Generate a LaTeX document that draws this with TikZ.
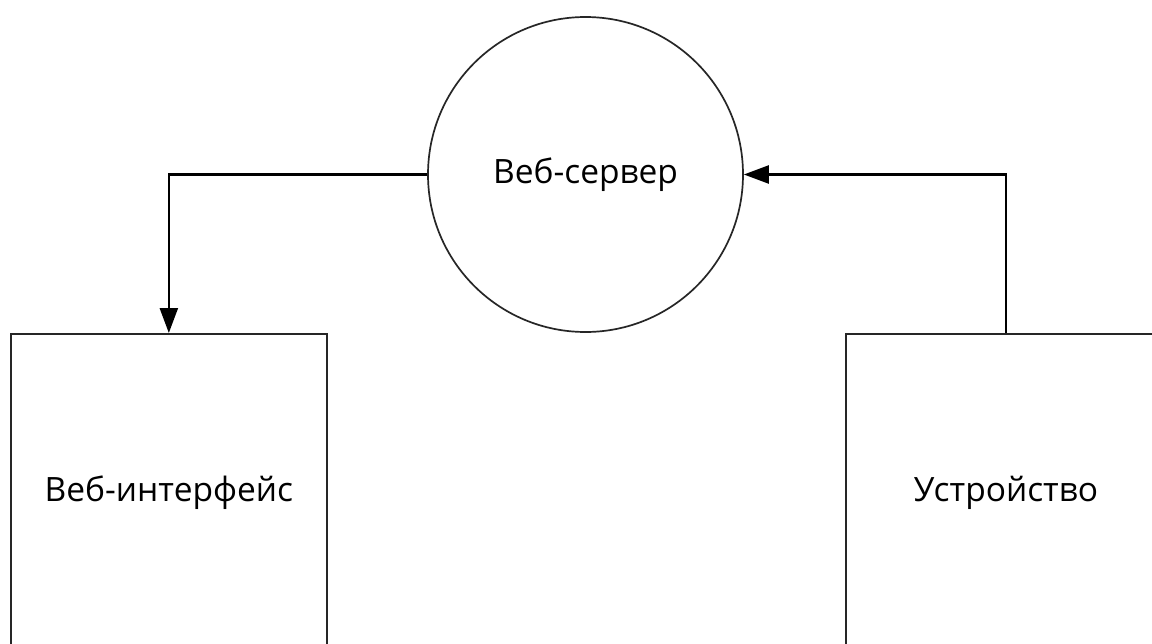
\documentclass[tikz,border=0pt]{standalone}
\usepackage{fontspec}
\setmainfont{Open Sans}
\usetikzlibrary{arrows.meta}
\begin{document}
\begin{tikzpicture}[x=1pt,y=-1pt,
  shapebox/.style={draw=black!85,line width=1.7pt,fill=white,inner sep=0pt,font=\fontsize{33.5}{38}\selectfont},
  link/.style={draw=black,line width=2.4pt,-{Triangle[length=25pt,width=18pt]}}]
\useasboundingbox (0,0) rectangle (1152,643);
\clip (0,0) rectangle (1152,643);
\fill[white] (0,0) rectangle (1152,643);
\node[shapebox,circle,minimum size=315pt] (srv) at (585.5,174.5) {Веб-сервер};
\node[shapebox,rectangle,minimum width=316pt,minimum height=318pt,anchor=north west] (web) at (10,333) {Веб-интерфейс};
\node[shapebox,rectangle,minimum width=320pt,minimum height=318pt,anchor=north west] (dev) at (845,333) {Устройство};
\draw[link] (srv.west) -| (web.north);
\draw[link] (dev.north) |- (srv.east);
\end{tikzpicture}
\end{document}
